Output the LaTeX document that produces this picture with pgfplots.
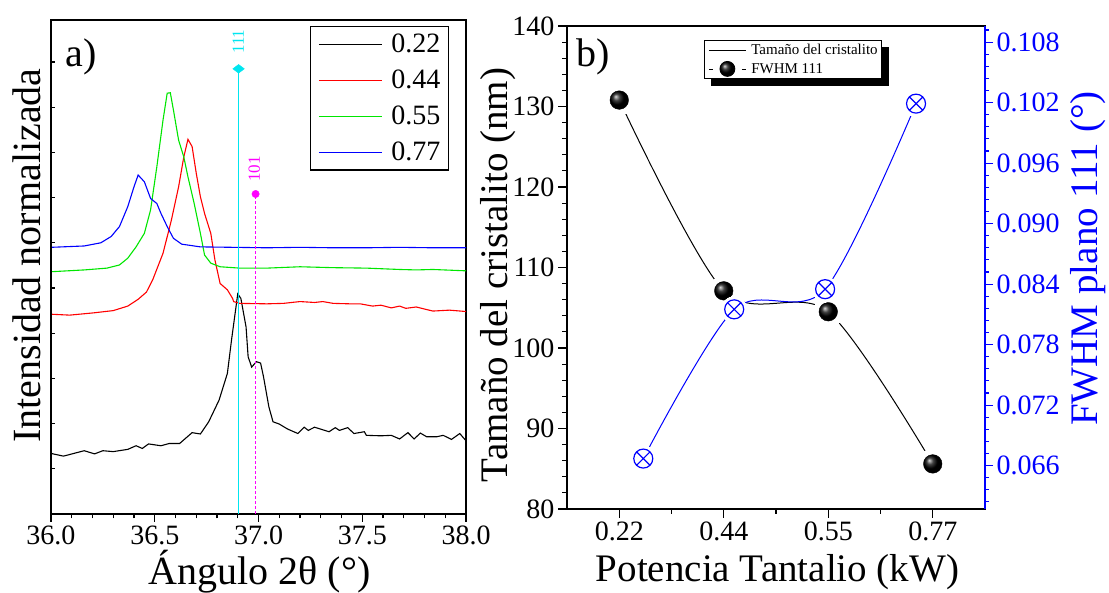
\documentclass[border=0pt]{standalone}
\usepackage{fontspec}
\setmainfont{Liberation Serif}
\usepackage{pgfplots}
\pgfplotsset{compat=1.18}
\pgfdeclarelayer{background}
\pgfsetlayers{background,main}

\definecolor{xblack}{RGB}{0,0,0}
\definecolor{xred}{RGB}{255,0,0}
\definecolor{xgreen}{RGB}{0,230,0}
\definecolor{xblue}{RGB}{0,0,255}
\definecolor{xcyan}{RGB}{0,230,240}
\definecolor{xmag}{RGB}{255,0,255}

\newcommand{\tickfont}{\fontsize{28}{28}\selectfont}
\newcommand{\titlefont}{\fontsize{39}{39}\selectfont}

\begin{document}
\begin{tikzpicture}[x=1pt,y=1pt]
\useasboundingbox (0,0) rectangle (1109,593);

% ---------------- a) XRD patterns ----------------
\begin{axis}[
  at={(51pt,79pt)}, anchor=south west, scale only axis,
  width=415pt, height=494pt,
  xmin=36, xmax=38, ymin=0, ymax=10.93,
  axis line style={line width=1.3pt},
  every tick/.style={black, line width=1.1pt},
  xtick={36,36.5,37,37.5,38}, minor x tick num=4,
  xtick pos=left, xtick align=outside,
  major tick length=8pt, minor tick length=4.5pt,
  ytick=\empty,
  /pgf/number format/assume math mode=true,
  xticklabel style={font=\tickfont,
    /pgf/number format/.cd, fixed, fixed zerofill, precision=1},
  legend style={at={(rel axis cs:0.959,0.988)}, anchor=north east,
    draw=black, line width=1.2pt, fill=white,
    inner xsep=8pt, inner ysep=7.5pt, row sep=16pt,
    nodes={inner sep=0pt},
    /tikz/every odd column/.append style={column sep=9pt},
    font=\fontsize{28}{28}\selectfont},
  legend cell align=left,
  legend image code/.code={\draw[#1, line width=1.1pt] (0pt,0pt) -- (63pt,0pt);},
]
% 0.22 kW
\addplot[xblack, line width=1.1pt] coordinates {
(36.00,1.34) (36.06,1.28) (36.16,1.40) (36.21,1.33) (36.25,1.40) (36.30,1.38)
(36.37,1.43) (36.41,1.51) (36.44,1.45) (36.47,1.55) (36.53,1.51) (36.57,1.56)
(36.62,1.56) (36.68,1.80) (36.72,1.77) (36.76,2.04) (36.81,2.52) (36.85,3.11)
(36.87,3.85) (36.90,4.87) (36.915,4.77) (36.94,4.14) (36.95,3.48) (36.967,3.25)
(36.99,3.37) (37.01,3.34) (37.024,3.04) (37.05,2.37) (37.07,2.04) (37.10,1.99)
(37.14,1.88) (37.17,1.82) (37.19,1.78) (37.22,1.92) (37.24,1.85) (37.27,1.92)
(37.34,1.82) (37.37,1.91) (37.39,1.85) (37.43,1.91) (37.46,1.78) (37.51,1.82)
(37.52,1.74) (37.59,1.73) (37.64,1.74) (37.68,1.66) (37.72,1.80) (37.75,1.66)
(37.78,1.79) (37.81,1.71) (37.86,1.71) (37.89,1.74) (37.93,1.65) (37.97,1.78)
(38.00,1.62)};
\addlegendentry{0.22}
% 0.44 kW
\addplot[xred, line width=1.1pt] coordinates {
(36.00,4.42) (36.09,4.40) (36.205,4.45) (36.30,4.50) (36.37,4.60) (36.42,4.75)
(36.46,4.91) (36.49,5.18) (36.54,5.77) (36.58,6.50) (36.615,7.24) (36.64,7.90)
(36.66,8.29) (36.68,8.13) (36.70,7.54) (36.72,7.02) (36.74,6.65) (36.77,6.21)
(36.79,5.62) (36.815,5.10) (36.85,4.96) (36.875,4.77) (36.88,4.70) (36.91,4.66)
(37.04,4.65) (37.12,4.66) (37.20,4.70) (37.27,4.68) (37.31,4.70) (37.36,4.66)
(37.44,4.65) (37.49,4.65) (37.55,4.60) (37.59,4.62) (37.64,4.56) (37.68,4.60)
(37.71,4.55) (37.76,4.58) (37.84,4.49) (37.92,4.51) (38.00,4.48)};
\addlegendentry{0.44}
% 0.55 kW
\addplot[xgreen, line width=1.1pt] coordinates {
(36.00,5.36) (36.16,5.40) (36.27,5.44) (36.33,5.51) (36.37,5.66) (36.41,5.91)
(36.45,6.21) (36.48,6.73) (36.51,7.68) (36.54,8.72) (36.56,9.31) (36.575,9.32)
(36.59,8.94) (36.615,8.27) (36.64,7.90) (36.66,7.46) (36.69,6.87) (36.72,6.21)
(36.74,5.73) (36.77,5.55) (36.815,5.47) (36.91,5.44) (37.04,5.44) (37.20,5.47)
(37.36,5.45) (37.52,5.44) (37.68,5.41) (37.76,5.40) (37.84,5.41) (38.00,5.38)};
\addlegendentry{0.55}
% 0.77 kW
\addplot[xblue, line width=1.1pt] coordinates {
(36.00,5.90) (36.16,5.93) (36.24,6.00) (36.29,6.14) (36.33,6.36) (36.37,6.80)
(36.40,7.24) (36.42,7.50) (36.45,7.35) (36.48,6.98) (36.51,6.87) (36.53,6.65)
(36.56,6.36) (36.59,6.10) (36.63,5.97) (36.72,5.91) (36.88,5.90) (37.04,5.89)
(37.20,5.90) (37.36,5.89) (37.52,5.89) (37.68,5.90) (37.84,5.89) (38.00,5.89)};
\addlegendentry{0.77}
% reference reflections
\addplot[xcyan, line width=1.3pt, forget plot] coordinates {(36.904,0) (36.904,9.85)};
\addplot[xcyan, only marks, mark=diamond*, mark size=5.8pt,
  mark options={rotate=90}, forget plot] coordinates {(36.904,9.85)};
\addplot[xmag, line width=1pt, dash pattern=on 3pt off 2pt, forget plot]
  coordinates {(36.986,0) (36.986,7.08)};
\addplot[xmag, only marks, mark=*, mark size=3.7pt, forget plot]
  coordinates {(36.986,7.08)};
\node[rotate=90, text=xcyan, font=\fontsize{17}{17}\selectfont] at (axis cs:36.903,10.45) {111};
\node[rotate=90, text=xmag, font=\fontsize{17}{17}\selectfont] at (axis cs:36.98,7.63) {101};
\end{axis}
% inner y ticks of panel a)
\begin{axis}[
  at={(51pt,79pt)}, anchor=south west, scale only axis,
  width=415pt, height=494pt,
  xmin=36, xmax=38, ymin=0, ymax=10.93,
  hide x axis, axis y line*=left,
  axis line style={line width=1.3pt},
  every tick/.style={black, line width=1.1pt},
  ytick={0,1,...,10}, yticklabels={}, ytick align=inside,
  major tick length=4pt,
]
\end{axis}

% ---------------- b) crystallite size / FWHM ----------------
\begin{axis}[
  at={(567pt,84pt)}, anchor=south west, scale only axis,
  width=418pt, height=483pt,
  xmin=0.5, xmax=4.5, ymin=80, ymax=140,
  axis line style={line width=1.3pt},
  every tick/.style={black, line width=1.1pt},
  xtick={1,2,3,4}, xticklabels={0.22,0.44,0.55,0.77},
  minor xtick={1.5,2.5,3.5},
  ytick={80,90,...,140}, minor y tick num=4,
  xtick pos=left, ytick pos=left, tick align=outside,
  major tick length=9pt, minor tick length=5pt,
  /pgf/number format/assume math mode=true,
  ticklabel style={font=\tickfont},
  legend style={name=sizelegend, at={(rel axis cs:0.328,0.971)}, anchor=north west,
    draw=black, line width=0.8pt, fill=white,
    inner xsep=4pt, inner ysep=2pt, row sep=4pt,
    nodes={inner sep=0pt, minimum height=15pt},
    /tikz/every odd column/.append style={column sep=5pt},
    font=\fontsize{15}{15}\selectfont},
  legend cell align=left,
]
\addplot[black, line width=1pt, smooth, tension=0.5, forget plot]
  coordinates {(1,130.8) (2,107.1) (3,104.5) (4,85.6)};
\addplot[only marks, mark=*, mark size=15pt, mark options={fill=white, draw=white, line width=0pt}, forget plot]
  coordinates {(1,130.8) (2,107.1) (3,104.5) (4,85.6)};
\addplot[only marks, mark=ball, mark size=9.3pt, mark options={ball color=black}, forget plot]
  coordinates {(1,130.8) (2,107.1) (3,104.5) (4,85.6)};
\addlegendimage{legend image code/.code={\draw[black, line width=0.8pt] (0pt,0pt) -- (37pt,0pt);}}
\addlegendentry{Tamaño del cristalito}
\addlegendimage{legend image code/.code={
  \path[draw=none, fill=none] (0pt,-7.5pt) rectangle (37pt,7.5pt);
  \draw[black, line width=0.8pt] (0pt,0pt) -- (4pt,0pt) (33pt,0pt) -- (37pt,0pt);
  \draw[overlay, black, mark=ball, mark size=7.5pt, mark options={ball color=black}]
    plot coordinates {(18.5pt,0pt)};}}
\addlegendentry{FWHM 111}
\end{axis}
% shadow of the legend box
\begin{pgfonlayer}{background}
\fill[black] ([shift={(7pt,-7pt)}]sizelegend.south west) rectangle ([shift={(7pt,-7pt)}]sizelegend.north east);
\end{pgfonlayer}

\begin{axis}[
  at={(567pt,84pt)}, anchor=south west, scale only axis,
  width=418pt, height=483pt,
  xmin=0.5, xmax=4.5, ymin=0.0617, ymax=0.1096,
  hide x axis, axis y line*=right,
  axis line style={xblue, line width=1.3pt},
  every tick/.style={xblue, line width=1.1pt},
  ytick={0.066,0.072,0.078,0.084,0.090,0.096,0.102,0.108},
  minor ytick={0.0624,0.0636,0.0648,0.0672,0.0684,0.0696,0.0708,0.0732,0.0744,0.0756,0.0768,
    0.0792,0.0804,0.0816,0.0828,0.0852,0.0864,0.0876,0.0888,0.0912,0.0924,0.0936,0.0948,
    0.0972,0.0984,0.0996,0.1008,0.1032,0.1044,0.1056,0.1068,0.1092},
  tick align=outside, scaled y ticks=false,
  major tick length=8pt, minor tick length=4pt,
  /pgf/number format/assume math mode=true,
  yticklabel style={font=\tickfont, text=xblue,
    /pgf/number format/.cd, fixed, fixed zerofill, precision=3},
]
\addplot[xblue, line width=1pt, smooth, tension=0.5]
  coordinates {(1.23,0.0667) (2.10,0.0815) (2.97,0.0835) (3.84,0.1019)};
\addplot[only marks, mark=*, mark size=13pt, mark options={fill=white, draw=white, line width=0pt}]
  coordinates {(1.23,0.0667) (2.10,0.0815) (2.97,0.0835) (3.84,0.1019)};
\addplot[only marks, mark=otimes, mark size=9.5pt, mark options={draw=xblue, line width=1.2pt}]
  coordinates {(1.23,0.0667) (2.10,0.0815) (2.97,0.0835) (3.84,0.1019)};
\end{axis}

% panel tags and axis titles
\node[anchor=base west, font=\fontsize{40}{40}\selectfont] at (62,526.3) {a)};
\node[anchor=base west, font=\fontsize{40}{40}\selectfont] at (573,526) {b)};
\node[anchor=base, font=\fontsize{40}{40}\selectfont] at (259.5,8) {Ángulo 2θ (°)};
\node[anchor=base, rotate=90, font=\fontsize{40}{40}\selectfont] at (40,337.5) {Intensidad normalizada};
\node[anchor=base, font=\titlefont] at (777.5,11) {Potencia Tantalio (kW)};
\node[anchor=base, rotate=90, font=\titlefont] at (507,318) {Tamaño del cristalito (nm)};
\node[anchor=base, rotate=90, font=\titlefont, text=xblue] at (1097,334.5) {FWHM plano 111 (°)};
\end{tikzpicture}
\end{document}
